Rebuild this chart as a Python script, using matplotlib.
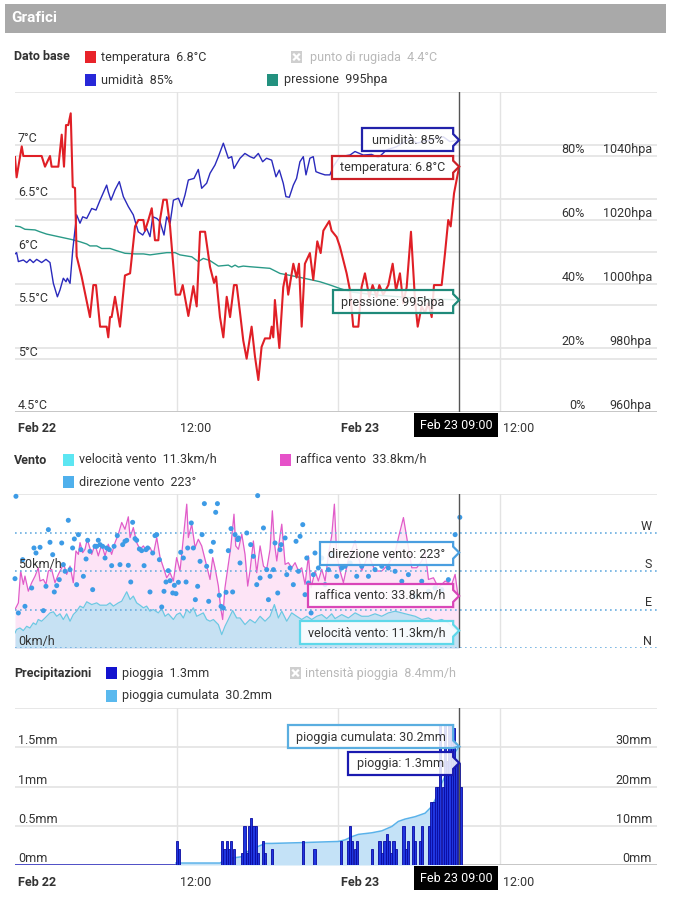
import matplotlib
matplotlib.use('Agg')
import matplotlib.pyplot as plt
from matplotlib.patches import Polygon, Rectangle
from matplotlib.lines import Line2D
from matplotlib.transforms import IdentityTransform, blended_transform_factory

plt.rcParams['font.family'] = ['Roboto', 'DejaVu Sans']

# ---------------- DATA (hours since Feb 22 00:00, value) ----------------
temperature = [(0.0, 6.89), (0.12, 6.70), (0.50, 6.99), (0.62, 6.90), (1.98, 6.90), (2.23, 6.80), (2.60, 6.90),
               (2.72, 6.80), (3.22, 6.80), (3.47, 7.10), (3.64, 6.80), (3.79, 7.19), (3.96, 7.19), (4.14, 7.30),
               (4.29, 6.61), (4.46, 6.60), (4.58, 5.96), (4.95, 5.77), (5.57, 5.39), (5.82, 5.69), (6.02, 5.69),
               (6.32, 5.30), (6.81, 5.30), (6.93, 5.20), (7.06, 5.39), (7.18, 5.39), (7.43, 5.58), (7.80, 5.30),
               (8.17, 5.78), (8.55, 5.80), (8.92, 6.24), (9.17, 6.30), (9.54, 6.30), (9.66, 6.20), (9.91, 6.30),
               (10.16, 6.41), (10.40, 6.11), (10.65, 6.11), (10.77, 6.30), (11.02, 6.49), (11.27, 6.49),
               (11.52, 6.24), (11.94, 5.60), (12.26, 5.60), (12.46, 5.69), (12.88, 5.40), (13.25, 5.68),
               (13.50, 5.49), (13.75, 6.19), (14.12, 6.19), (14.49, 5.86), (14.79, 5.71), (14.94, 5.77),
               (15.23, 5.39), (15.48, 5.20), (15.73, 5.58), (15.98, 5.39), (16.27, 5.69), (16.47, 5.69),
               (16.72, 5.43), (16.96, 5.17), (17.21, 5.00), (17.58, 5.30), (17.83, 5.02), (18.08, 4.80),
               (18.32, 5.11), (18.57, 5.19), (18.94, 5.19), (19.07, 5.30), (19.19, 5.20), (19.31, 5.55),
               (19.64, 5.10), (19.93, 5.67), (20.13, 5.80), (20.30, 5.60), (20.68, 5.89), (20.92, 5.76),
               (21.10, 5.89), (21.30, 5.30), (21.54, 5.89), (21.91, 5.99), (22.16, 5.74), (22.46, 6.10),
               (22.71, 5.99), (22.91, 6.20), (23.35, 6.29), (23.52, 6.20), (23.90, 6.14), (24.14, 6.05),
               (24.64, 5.80), (24.89, 5.64), (25.13, 5.30), (25.51, 5.30), (25.75, 5.67), (26.00, 5.80),
               (26.32, 5.58), (26.57, 5.69), (26.87, 5.58), (27.07, 5.69), (27.36, 5.60), (27.74, 5.69),
               (28.06, 5.89), (28.31, 5.64), (28.60, 5.80), (28.85, 5.52), (29.10, 5.67), (29.42, 6.19),
               (29.72, 5.55), (29.92, 5.30), (30.21, 5.49), (30.46, 5.43), (30.71, 5.52), (30.96, 5.39),
               (31.13, 5.69), (31.70, 5.69), (31.95, 5.99), (32.19, 6.30), (32.37, 6.24), (32.62, 6.55),
               (33.0, 6.80)]

humidity = [(0.0, 49.4), (0.12, 49.8), (0.25, 47.0), (0.62, 47.5), (0.87, 46.7), (1.11, 47.7), (1.36, 46.7),
            (1.61, 47.7), (1.98, 46.7), (2.30, 47.7), (2.60, 46.7), (2.85, 40.2), (3.15, 36.0), (3.34, 38.1),
            (3.59, 41.8), (3.79, 40.7), (3.89, 41.8), (4.09, 40.2), (4.29, 50.6), (4.58, 61.6), (4.83, 59.0),
            (5.03, 61.0), (5.33, 60.5), (5.70, 63.6), (6.02, 63.1), (6.32, 66.2), (6.81, 70.9), (6.93, 68.8),
            (7.13, 66.2), (7.43, 69.4), (7.75, 72.0), (8.05, 67.3), (8.42, 64.2), (8.79, 61.6), (9.16, 56.3),
            (9.49, 55.3), (9.78, 57.4), (10.03, 54.8), (10.23, 61.0), (10.53, 60.5), (10.77, 59.5),
            (11.07, 55.3), (11.27, 61.0), (11.52, 58.9), (11.77, 66.2), (12.14, 66.8), (12.38, 64.2),
            (12.63, 67.8), (12.88, 72.5), (13.30, 73.0), (13.62, 75.8), (13.87, 69.9), (14.24, 71.5),
            (14.49, 74.6), (14.86, 77.2), (15.11, 79.8), (15.48, 84.0), (15.85, 79.3), (16.10, 79.8),
            (16.27, 76.1), (16.72, 79.3), (17.08, 80.8), (17.46, 79.8), (17.75, 79.3), (18.08, 80.8),
            (18.40, 78.2), (18.69, 79.3), (19.07, 78.7), (19.39, 73.5), (19.64, 75.6), (19.93, 71.5),
            (20.13, 67.3), (20.38, 67.1), (20.68, 70.9), (20.92, 73.0), (21.17, 78.2), (21.42, 79.8),
            (21.62, 74.1), (21.91, 79.3), (22.16, 79.8), (22.36, 75.1), (22.66, 74.6), (23.03, 74.1),
            (23.40, 74.1), (23.65, 76.7), (24.14, 79.8), (24.89, 80.3), (25.26, 81.4), (25.88, 80.3),
            (26.50, 80.5), (27.00, 79.5), (27.61, 81.9), (28.35, 82.9), (29.35, 85.5), (29.84, 84.0),
            (30.83, 85.0), (31.82, 86.0), (32.32, 84.5), (33.0, 85.0)]

pressure = [(0.0, 1018.1), (0.37, 1017.9), (0.74, 1017.1), (1.49, 1016.9), (1.86, 1016.3), (2.35, 1015.6),
            (3.22, 1014.8), (4.21, 1013.9), (4.83, 1013.2), (5.33, 1012.5), (5.57, 1011.9), (6.07, 1011.9),
            (6.44, 1011.1), (7.06, 1011.1), (7.56, 1010.4), (8.17, 1009.6), (8.92, 1009.4), (9.54, 1009.4),
            (10.03, 1009.1), (11.27, 1009.8), (11.89, 1009.8), (12.26, 1009.1), (13.13, 1008.5),
            (13.62, 1007.0), (13.99, 1008.0), (14.49, 1007.3), (15.11, 1005.6), (15.85, 1005.9),
            (16.10, 1005.3), (16.35, 1005.9), (16.60, 1005.3), (16.96, 1005.6), (17.46, 1005.4),
            (18.94, 1004.9), (19.69, 1003.3), (20.92, 1002.3), (21.91, 1001.4), (22.66, 1000.7),
            (23.40, 999.7), (24.14, 998.6), (25.0, 997.5), (27.0, 996.5), (30.0, 995.5), (33.0, 995.0)]

wind_speed = [(0.0, 9.8), (0.12, 12.0), (0.37, 13.0), (0.62, 11.3), (0.87, 14.1), (1.11, 13.0), (1.36, 16.3),
              (1.56, 15.2), (1.73, 18.5), (1.98, 17.4), (2.23, 19.5), (2.60, 22.8), (2.85, 23.5), (3.10, 20.6),
              (3.34, 22.2), (3.59, 18.5), (3.84, 22.2), (4.09, 17.4), (4.33, 21.7), (4.58, 23.9), (4.83, 27.2),
              (5.08, 26.1), (5.33, 30.0), (5.70, 28.2), (6.07, 29.3), (6.32, 27.8), (6.56, 27.8), (6.81, 27.8),
              (7.06, 29.3), (7.31, 27.2), (7.68, 29.3), (7.93, 30.4), (8.30, 36.5), (8.55, 31.5), (8.79, 33.7),
              (9.04, 29.3), (9.29, 27.8), (9.54, 26.1), (9.78, 27.2), (10.03, 23.9), (10.28, 25.0),
              (10.65, 22.8), (10.90, 25.6), (11.15, 20.6), (11.39, 22.2), (11.77, 18.5), (12.01, 21.7),
              (12.26, 22.8), (12.51, 19.5), (12.76, 25.0), (13.00, 22.8), (13.25, 26.1), (13.50, 20.6),
              (13.75, 21.7), (13.99, 22.8), (14.24, 18.5), (14.49, 17.4), (14.74, 18.5), (15.11, 15.2),
              (15.36, 8.7), (15.60, 14.1), (15.85, 18.5), (16.17, 24.3), (16.47, 19.5), (16.72, 19.5),
              (17.09, 15.2), (17.46, 18.5), (17.84, 16.3), (18.21, 20.6), (18.58, 17.4), (18.95, 20.6),
              (19.27, 28.2), (19.57, 19.5), (19.82, 23.9), (20.19, 17.4), (20.56, 22.8), (20.93, 20.6),
              (21.30, 18.5), (21.68, 20.6), (22.05, 18.5), (22.42, 20.6), (22.79, 21.7), (23.16, 19.1),
              (23.53, 22.2), (23.78, 19.1), (24.28, 21.7), (24.77, 19.5), (25.27, 22.8), (25.76, 20.6),
              (26.26, 20.6), (26.75, 22.2), (27.25, 20.6), (27.74, 22.8), (28.24, 23.9), (28.74, 22.8),
              (29.23, 21.7), (29.73, 20.6), (30.22, 18.5), (30.72, 19.5), (31.21, 17.4), (31.71, 18.5),
              (32.20, 16.3), (32.57, 13.0), (32.90, 10.9), (33.0, 11.3)]

wind_gust = [(0.0, 25.0), (0.25, 29.3), (0.42, 50.0), (0.62, 41.3), (0.74, 46.7), (0.99, 36.9), (1.24, 42.4),
             (1.49, 46.7), (1.73, 52.1), (1.86, 43.5), (2.11, 44.5), (2.30, 41.3), (2.48, 50.0), (2.72, 51.1),
             (2.97, 42.4), (3.22, 47.8), (3.47, 52.1), (3.59, 55.4), (3.84, 47.8), (4.09, 53.2), (4.33, 42.4),
             (4.53, 63.0), (4.71, 60.8), (4.83, 68.4), (5.03, 61.9), (5.20, 64.1), (5.37, 70.6), (5.70, 60.8),
             (5.94, 67.4), (6.19, 59.8), (6.44, 67.4), (6.69, 59.8), (6.93, 67.4), (7.18, 60.8), (7.43, 68.4),
             (7.68, 73.9), (7.93, 81.5), (8.17, 77.1), (8.42, 85.2), (8.55, 71.7), (8.79, 78.2), (9.04, 68.4),
             (9.29, 64.1), (9.54, 66.3), (9.78, 63.0), (10.03, 65.2), (10.28, 60.8), (10.53, 71.7),
             (10.78, 58.7), (11.07, 51.1), (11.27, 45.6), (11.52, 48.9), (11.77, 43.5), (12.01, 58.7),
             (12.26, 50.0), (12.51, 71.7), (12.76, 93.4), (12.88, 71.7), (13.13, 80.4), (13.38, 65.2),
             (13.62, 70.6), (13.87, 66.3), (14.12, 57.6), (14.37, 48.9), (14.49, 44.5), (14.69, 58.7),
             (14.86, 52.1), (15.11, 40.2), (15.28, 26.1), (15.43, 18.5), (15.60, 39.1), (15.85, 54.3),
             (16.03, 65.2), (16.27, 86.9), (16.40, 66.3), (16.60, 64.1), (16.85, 73.9), (17.09, 60.8),
             (17.29, 40.2), (17.46, 50.0), (17.71, 69.5), (17.96, 48.9), (18.21, 66.3), (18.46, 53.2),
             (18.70, 51.1), (18.95, 64.1), (19.12, 89.1), (19.27, 68.4), (19.45, 56.5), (19.69, 72.8),
             (19.82, 80.4), (20.07, 54.3), (20.31, 55.4), (20.56, 52.1), (20.81, 55.4), (21.06, 50.0),
             (21.30, 52.1), (21.55, 41.3), (21.80, 59.8), (22.00, 39.1), (22.29, 50.0), (22.54, 43.5),
             (22.79, 51.1), (23.04, 43.5), (23.29, 60.8), (23.53, 72.8), (23.73, 93.4), (23.90, 60.8),
             (24.15, 50.0), (24.40, 42.4), (24.77, 57.6), (25.27, 69.5), (25.76, 50.0), (26.26, 60.8),
             (26.75, 50.0), (27.25, 50.0), (27.74, 54.3), (28.24, 61.9), (28.49, 71.7), (28.86, 84.7),
             (29.11, 71.7), (29.48, 52.1), (29.85, 52.1), (30.22, 56.5), (30.47, 63.0), (30.72, 44.5),
             (31.09, 45.6), (31.46, 39.1), (31.96, 43.5), (32.45, 41.3), (32.70, 47.8), (32.90, 34.8),
             (33.0, 33.8)]

wind_direction = [(0.07, 354.6), (0.0, 162.1), (0.25, 81.9), (0.74, 97.4), (0.57, 206.5), (1.24, 140.3),
                  (1.41, 233.8), (1.56, 222.1), (1.86, 235.4), (2.11, 87.3), (2.30, 144.2), (2.48, 276.7),
                  (2.60, 247.1), (2.80, 218.2), (2.92, 131.0), (3.10, 145.8), (3.29, 159.8), (3.47, 245.5),
                  (3.59, 194.9), (3.72, 179.3), (3.96, 298.5), (4.09, 183.2), (4.28, 233.8), (4.41, 254.9),
                  (4.58, 148.1), (4.71, 265.0), (4.90, 229.9), (5.08, 167.6), (5.28, 208.1), (5.40, 251.8),
                  (5.57, 226.0), (5.77, 136.4), (5.94, 237.7), (6.07, 237.7), (6.19, 251.8), (6.32, 241.6),
                  (6.51, 237.7), (6.69, 210.4), (6.81, 233.8), (7.01, 229.9), (7.18, 192.5), (7.36, 237.7),
                  (7.60, 262.7), (7.80, 194.9), (8.00, 241.6), (8.17, 249.4), (8.30, 251.8), (8.42, 193.3),
                  (8.60, 154.3), (8.74, 293.8), (8.92, 255.6), (9.04, 251.8), (9.24, 231.5), (9.41, 227.6),
                  (9.59, 192.5), (9.73, 229.9), (9.86, 233.8), (10.03, 131.0), (10.23, 222.1), (10.40, 262.7),
                  (10.53, 265.0), (10.73, 206.5), (10.90, 95.9), (11.07, 132.5), (11.22, 154.3), (11.39, 180.8),
                  (11.52, 157.4), (11.72, 128.6), (11.84, 146.5), (11.96, 127.1), (12.14, 153.6), (12.31, 223.7),
                  (12.51, 210.4), (12.71, 154.3), (12.83, 233.8), (13.10, 292.3), (13.25, 233.8), (13.40, 113.0),
                  (13.57, 144.2), (13.75, 202.6), (13.90, 265.0), (14.07, 337.5), (14.24, 191.0), (14.39, 109.1),
                  (14.56, 226.0), (14.74, 247.1), (14.91, 317.2), (15.04, 337.5), (15.18, 123.2), (15.31, 97.4),
                  (15.48, 93.5), (15.68, 130.2), (15.85, 227.6), (16.05, 279.0), (16.17, 131.0), (16.35, 265.0),
                  (16.55, 253.3), (16.72, 198.8), (16.60, 257.2), (17.22, 268.9), (17.51, 241.6), (17.71, 214.3),
                  (17.96, 148.1), (18.03, 356.2), (18.21, 163.7), (18.46, 280.6), (18.70, 183.2), (18.83, 113.0),
                  (18.95, 167.6), (19.20, 183.2), (19.32, 245.5), (19.52, 128.6), (19.69, 229.9), (19.77, 241.6),
                  (20.07, 257.2), (20.19, 171.5), (20.44, 187.1), (20.68, 148.1), (20.88, 249.4), (21.06, 179.3),
                  (21.18, 261.1), (21.38, 288.4), (21.55, 124.7), (21.68, 210.4), (21.80, 152.0), (22.00, 81.9),
                  (22.17, 171.5), (22.29, 222.1), (22.54, 187.1), (22.79, 210.4), (23.04, 148.1), (23.29, 183.2),
                  (23.53, 218.2), (23.90, 167.6), (24.28, 187.1), (24.52, 191.0), (24.90, 198.8), (25.39, 167.6),
                  (25.76, 191.0), (26.26, 167.6), (26.75, 183.2), (27.25, 191.0), (27.74, 187.1), (28.24, 179.3),
                  (28.74, 156.0), (29.23, 171.5), (29.73, 120.8), (30.22, 156.0), (30.72, 132.5), (31.21, 140.3),
                  (31.71, 136.4), (32.20, 159.8), (32.70, 265.0), (33.05, 305.5)]

rain = [(11.96, 0.3), (12.13, 0.2), (15.31, 0.3), (15.48, 0.2), (15.65, 0.3), (15.85, 0.2), (16.0, 0.3),
        (16.17, 0.2), (16.79, 0.15), (16.97, 0.5), (17.14, 0.15), (17.29, 0.5), (17.46, 0.6), (17.64, 0.5),
        (17.81, 0.5), (17.98, 0.15), (18.33, 0.3), (18.5, 0.15), (19.02, 0.2), (21.30, 0.3), (22.17, 0.2),
        (24.15, 0.3), (24.65, 0.3), (24.82, 0.5), (24.99, 0.3), (25.16, 0.2), (25.33, 0.3), (26.45, 0.2),
        (27.0, 0.3), (27.17, 0.15), (27.37, 0.3), (27.54, 0.4), (27.71, 0.3), (27.88, 0.15), (28.04, 0.3),
        (28.21, 0.2), (28.78, 0.5), (28.95, 0.2), (29.10, 0.3), (29.47, 0.5), (29.64, 0.3), (30.02, 0.3),
        (30.19, 0.5), (30.67, 0.5), (30.84, 0.8), (31.01, 0.8), (31.18, 1.0), (31.35, 1.0), (31.52, 1.8),
        (31.69, 1.0), (31.86, 1.8), (32.03, 1.33), (32.20, 1.8), (32.37, 1.8), (32.54, 1.75), (32.71, 1.33),
        (32.88, 1.3), (33.05, 1.0)]

rain_cumulative = [(11.96, 0.5), (15.23, 0.5), (15.48, 1.0), (15.97, 1.7), (16.84, 2.1), (17.09, 3.0),
                   (17.46, 3.8), (17.83, 4.4), (18.33, 5.1), (18.58, 5.5), (19.07, 5.5), (21.30, 5.7),
                   (22.17, 5.8), (24.03, 6.0), (24.52, 6.4), (25.02, 7.2), (25.51, 7.8), (26.50, 8.2),
                   (27.25, 8.7), (27.99, 9.8), (28.48, 11.1), (28.98, 11.7), (29.72, 12.3), (30.47, 13.2),
                   (30.96, 14.9), (31.33, 17.4), (31.58, 20.0), (31.83, 21.7), (32.20, 24.7), (32.57, 28.1),
                   (33.0, 30.2)]

x_ticks = [0, 12, 24, 36]
x_tick_labels = ['Feb 22', '12:00', 'Feb 23', '12:00']
x_tick_bold = [True, False, True, False]
temp_ticks = [4.5, 5, 5.5, 6, 6.5, 7]
temp_tick_labels = ['4.5°C', '5°C', '5.5°C', '6°C', '6.5°C', '7°C']
pct_ticks = [0, 20, 40, 60, 80]
pct_tick_labels = ['0%', '20%', '40%', '60%', '80%']
hpa_ticks = [960, 980, 1000, 1020, 1040]
hpa_tick_labels = ['960hpa', '980hpa', '1000hpa', '1020hpa', '1040hpa']
speed_ticks = [0, 50]
speed_tick_labels = ['0km/h', '50km/h']
dir_ticks = [0, 90, 180, 270]
dir_tick_labels = ['N', 'E', 'S', 'W']
rain_ticks = [0, 0.5, 1, 1.5]
rain_tick_labels = ['0mm', '0.5mm', '1mm', '1.5mm']
cum_ticks = [0, 10, 20, 30]
cum_tick_labels = ['0mm', '10mm', '20mm', '30mm']
cursor_hour = 33.0
cursor_label = 'Feb 23 09:00'

# ---------------- LAYOUT ----------------
W, H = 673, 899
fig = plt.figure(figsize=(W / 100, H / 100), dpi=100)
fig.patch.set_facecolor('white')
TXT = '#333333'
GRID = '#e3e3e3'
FS = 9
XMAX = 47.7


def fx(px):
    return px / W


def fy(py):
    return 1 - py / H


def new_axes(left, top, right, bottom):
    a = fig.add_axes([fx(left), fy(bottom), (right - left) / W, (bottom - top) / H])
    a.set_xlim(0, XMAX)
    for s in a.spines.values():
        s.set_visible(False)
    a.set_xticks([])
    a.set_yticks([])
    a.patch.set_alpha(0)
    return a


def twin(a, lo, hi):
    t = a.twinx()
    t.set_ylim(lo, hi)
    t.set_xlim(0, XMAX)
    for s in t.spines.values():
        s.set_visible(False)
    t.set_yticks([])
    t.set_xticks([])
    t.patch.set_alpha(0)
    return t


def unzip(pairs):
    return [p[0] for p in pairs], [p[1] for p in pairs]


def hline(host, scale_ax, v, **kw):
    """horizontal line drawn in host axes at value v of scale_ax's y scale"""
    tr = blended_transform_factory(host.transAxes, scale_ax.transData)
    host.plot([0, 1], [v, v], transform=tr, **kw)


def labels(host, scale_ax, ticks, labs, xfrac, ha):
    tr = blended_transform_factory(host.transAxes, scale_ax.transData)
    for v, l in zip(ticks, labs):
        host.annotate(l, xy=(xfrac, v), xycoords=tr, xytext=(3 if ha == 'left' else 0, 0),
                      textcoords='offset pixels', ha=ha, va='bottom', fontsize=FS, color=TXT,
                      zorder=30, annotation_clip=False)


def to_img(a, x, y):
    dx, dy = a.transData.transform((x, y))
    return dx, H - dy


def tooltip(a, x, y, text, color, left_px, top_px, h=23):
    ax_px, ay_px = to_img(a, x, y)
    right = ax_px - 6
    bottom = top_px + h
    t1 = max(top_px, ay_px - 6)
    t2 = min(bottom, ay_px + 6)
    pts = [(left_px, top_px), (right, top_px), (right, t1), (ax_px, ay_px), (right, t2),
           (right, bottom), (left_px, bottom)]
    poly = Polygon([(px, H - py) for px, py in pts], closed=True, transform=IdentityTransform(),
                   facecolor=(1, 1, 1, 0.85), edgecolor=color, lw=1.6, zorder=20, joinstyle='miter')
    fig.add_artist(poly)
    fig.text(fx((left_px + right) / 2), fy(top_px + h / 2 + 0.5), text, ha='center', va='center',
             fontsize=FS, color=TXT, zorder=21)


def cursor_box(a, top_px):
    cx, _ = to_img(a, cursor_hour, 0)
    cx -= 3
    w, h = 84, 24
    fig.add_artist(Rectangle((fx(cx - w / 2), fy(top_px + h)), w / W, h / H, transform=fig.transFigure,
                             facecolor='black', edgecolor='none', zorder=22))
    fig.text(fx(cx), fy(top_px + h / 2 + 0.5), cursor_label, ha='center', va='center', fontsize=FS,
             color='white', zorder=23)


def x_labels(a, y_px):
    for h_, l, b in zip(x_ticks, x_tick_labels, x_tick_bold):
        px, _ = to_img(a, h_, 0)
        fig.text(fx(px + 3), fy(y_px), l, ha='left', va='center', fontsize=FS, color=TXT,
                 fontweight='bold' if b else 'normal')


def legend_square(x_px, y_px, color):
    fig.add_artist(Rectangle((fx(x_px), fy(y_px + 6)), 11 / W, 12 / H, transform=fig.transFigure,
                             facecolor=color, edgecolor='none'))


def legend_disabled(x_px, y_px):
    fig.add_artist(Rectangle((fx(x_px), fy(y_px + 6)), 11 / W, 12 / H, transform=fig.transFigure,
                             facecolor='#cfcfcf', edgecolor='none'))
    for d in (1, -1):
        fig.add_artist(Line2D([fx(x_px + 3), fx(x_px + 8)], [fy(y_px - 2.5 * d), fy(y_px + 2.5 * d)],
                              transform=fig.transFigure, color='white', lw=1.6))


def legend_text(x_px, y_px, s, color=TXT, bold=False):
    fig.text(fx(x_px), fy(y_px), s, ha='left', va='center', fontsize=FS, color=color,
             fontweight='bold' if bold else 'normal')


RIGHT1 = (585 - 15) / 642
RIGHT2 = (652 - 15) / 642

# ---------------- HEADER ----------------
fig.add_artist(Rectangle((fx(5), fy(33)), 661 / W, 29 / H, transform=fig.transFigure,
                         facecolor='#a9a9a9', edgecolor='none'))
fig.text(fx(11), fy(18.5), 'Grafici', ha='left', va='center', fontsize=11, color='white', fontweight='bold')

# ---------------- PANEL 1 : Dato base ----------------
legend_text(14, 57, 'Dato base', bold=True)
legend_square(85, 57, '#e8232a')
legend_text(101, 57, 'temperatura  6.8°C')
legend_disabled(291, 57)
legend_text(310, 57, 'punto di rugiada  4.4°C', color='#b8b8b8')
legend_square(85, 80, '#2828d8')
legend_text(101, 80, 'umidità  85%')
legend_square(267, 80, '#23917f')
legend_text(284, 80, 'pressione  995hpa')

ax1 = new_axes(15, 92, 657, 412)
ax1.set_ylim(4.5, 7.5)
ax1h = twin(ax1, 0, 100)
ax1p = twin(ax1, 960, 1060)
ax1p.set_zorder(1)
ax1h.set_zorder(2)
ax1.set_zorder(3)

for v in [5, 5.5, 6, 6.5, 7]:
    hline(ax1p, ax1, v, color=GRID, lw=1.2, zorder=0)
for v in [20, 40, 60, 80, 100]:
    hline(ax1p, ax1h, v, color=GRID, lw=1.2, zorder=0)
for v in [12, 24, 36]:
    ax1p.axvline(v, color=GRID, lw=1, zorder=0)
ax1p.axhline(960, color='#c6c6c6', lw=1.4, zorder=1)

t, v = unzip(pressure)
ax1p.plot(t, v, color='#2a9a88', lw=1.0, zorder=3)
t, v = unzip(humidity)
ax1h.plot(t, v, color='#2a2abc', lw=1.0, zorder=4)
t, v = unzip(temperature)
ax1.plot(t, v, color='#e01f26', lw=1.5, zorder=5)
ax1.axvline(cursor_hour, color='#555555', lw=1, zorder=6)

labels(ax1, ax1, temp_ticks, temp_tick_labels, 0, 'left')
labels(ax1, ax1h, pct_ticks, pct_tick_labels, RIGHT1, 'right')
labels(ax1, ax1p, hpa_ticks, hpa_tick_labels, RIGHT2, 'right')
x_labels(ax1, 428)
cursor_box(ax1, 413)

tooltip(ax1h, cursor_hour, 85, 'umidità: 85%', '#2222aa', 362, 128)
tooltip(ax1, cursor_hour, 6.8, 'temperatura: 6.8°C', '#cc1f26', 332, 156)
tooltip(ax1p, cursor_hour, 995, 'pressione: 995hpa', '#1f8a7a', 333, 290)

# ---------------- PANEL 2 : Vento ----------------
legend_text(14, 460, 'Vento', bold=True)
legend_square(63, 460, '#5ce6f2')
legend_text(79, 460, 'velocità vento  11.3km/h')
legend_square(280, 460, '#e652c9')
legend_text(296, 460, 'raffica vento  33.8km/h')
legend_square(63, 482, '#4fb0ec')
legend_text(79, 482, 'direzione vento  223°')

ax2 = new_axes(15, 494, 657, 648)
ax2.set_ylim(0, 100)
ax2d = twin(ax2, 0, 360)
ax2.set_zorder(1)
ax2d.set_zorder(2)
ax2.axhline(100, color=GRID, lw=1.2, zorder=0)
for v in [12, 24, 36]:
    ax2.axvline(v, color=GRID, lw=1, zorder=0)

t, v = unzip(wind_gust)
ax2.fill_between(t, v, 0, color='#fde4f6', lw=0, zorder=1)
ax2.plot(t, v, color='#e15cc9', lw=0.9, zorder=3)
t, v = unzip(wind_speed)
ax2.fill_between(t, v, 0, color='#c6e1f3', lw=0, zorder=2)
ax2.plot(t, v, color='#6cc9e3', lw=0.9, zorder=3)
for v in dir_ticks:
    ax2d.axhline(v, color='#6aaee0', lw=1.2, ls=(0, (1, 2)), zorder=4)
t, v = unzip(wind_direction)
ax2d.scatter(t, v, s=13, color='#3d9be6', edgecolors='none', zorder=5, clip_on=False)
ax2d.axvline(cursor_hour, color='#555555', lw=1, zorder=6)

labels(ax2d, ax2, speed_ticks, speed_tick_labels, 0, 'left')
labels(ax2d, ax2d, dir_ticks, dir_tick_labels, RIGHT2, 'right')

tooltip(ax2d, cursor_hour, 223, 'direzione vento: 223°', '#4a9fe0', 320, 542)
tooltip(ax2, cursor_hour, 33.8, 'raffica vento: 33.8km/h', '#d946b8', 308, 584)
tooltip(ax2, cursor_hour, 11.3, 'velocità vento: 11.3km/h', '#5fd8ea', 300, 621)

# ---------------- PANEL 3 : Precipitazioni ----------------
legend_text(14, 673, 'Precipitazioni', bold=True)
legend_square(106, 673, '#1313cf')
legend_text(122, 673, 'pioggia  1.3mm')
legend_disabled(290, 673)
legend_text(305, 673, 'intensità pioggia  8.4mm/h', color='#b8b8b8')
legend_square(106, 696, '#5ab9ee')
legend_text(122, 696, 'pioggia cumulata  30.2mm')

ax3 = new_axes(15, 708, 657, 865)
ax3.set_ylim(0, 2)
ax3c = twin(ax3, 0, 40)
ax3c.set_zorder(1)
ax3.set_zorder(2)
for v in [0.5, 1, 1.5, 2]:
    hline(ax3c, ax3, v, color=GRID, lw=1.2, zorder=0)
for v in [12, 24, 36]:
    ax3c.axvline(v, color=GRID, lw=1, zorder=0)
ax3c.axhline(0, color='#c6c6c6', lw=1.4, zorder=1)

t, v = unzip(rain_cumulative)
ax3c.fill_between(t, v, 0, color='#c4e2f7', lw=0, zorder=1)
ax3c.plot(t, v, color='#5ab2ea', lw=1.1, zorder=2)
ax3.plot([0, rain_cumulative[0][0]], [0, 0], color='#3b3bc8', lw=1.2, zorder=2)
t, v = unzip(rain)
ax3.bar(t, v, width=0.16, align='edge', color='#1f36e0', edgecolor='#0a0aa0', lw=0.6, zorder=3)
ax3.axvline(cursor_hour, color='#555555', lw=1, zorder=6)

labels(ax3, ax3, rain_ticks, rain_tick_labels, 0, 'left')
labels(ax3, ax3c, cum_ticks, cum_tick_labels, RIGHT2, 'right')
x_labels(ax3, 882)
cursor_box(ax3, 866)

tooltip(ax3c, cursor_hour, 30.2, 'pioggia cumulata: 30.2mm', '#5aaee0', 288, 725)
tooltip(ax3, cursor_hour, 1.3, 'pioggia: 1.3mm', '#1a1ab0', 348, 752)

fig.savefig('out.png', dpi=100)
